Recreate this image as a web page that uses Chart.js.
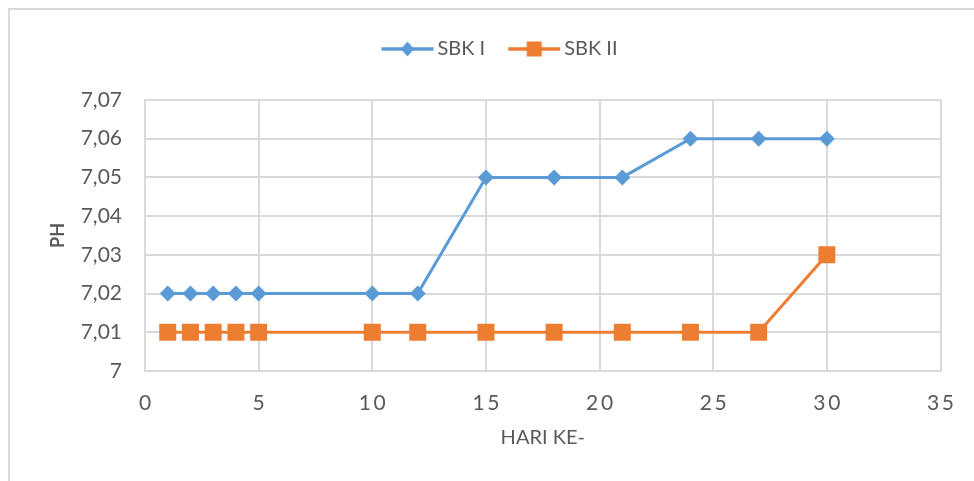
<!DOCTYPE html>
<html>
<head>
<meta charset="utf-8">
<script src="https://cdn.jsdelivr.net/npm/chart.js@4/dist/chart.umd.min.js"></script>
<style>
  html, body { margin: 0; padding: 0; background: #ffffff; }
  #wrap { width: 974px; height: 481px; }
</style>
</head>
<body>
<div id="wrap"><canvas id="c" width="974" height="481"></canvas></div>
<script>
// Observation days and pH readings
const days = [1, 2, 3, 4, 5, 10, 12, 15, 18, 21, 24, 27, 30];
const sbk1 = [7.02, 7.02, 7.02, 7.02, 7.02, 7.02, 7.02, 7.05, 7.05, 7.05, 7.06, 7.06, 7.06];
const sbk2 = [7.01, 7.01, 7.01, 7.01, 7.01, 7.01, 7.01, 7.01, 7.01, 7.01, 7.01, 7.01, 7.03];
const seriesNames = ['SBK I', 'SBK II'];
const xTitle = 'HARI KE-';
const yTitle = 'PH';

const BLUE = '#5B9BD5';
const ORANGE = '#ED7D31';
const GRID = '#d9d9d9';
const TEXT = '#595959';
const FONT = "Lato, 'Open Sans', 'Liberation Sans', sans-serif";

// legend swatch: short line with the series marker in the middle
function legendIcon(color, shape) {
  const c = document.createElement('canvas');
  c.width = 54; c.height = 22;
  const g = c.getContext('2d');
  g.strokeStyle = color; g.fillStyle = color;
  g.lineWidth = 3.5;
  g.beginPath(); g.moveTo(1, 11); g.lineTo(53, 11); g.stroke();
  g.beginPath();
  if (shape === 'diamond') {
    g.moveTo(27, 3.5); g.lineTo(33.5, 11); g.lineTo(27, 18.5); g.lineTo(20.5, 11); g.closePath();
  } else {
    g.rect(19.5, 3.5, 15, 15);
  }
  g.fill();
  return c;
}
const icons = [legendIcon(BLUE, 'diamond'), legendIcon(ORANGE, 'square')];

function toPoints(xs, ys) { return xs.map((x, i) => ({ x: x, y: ys[i] })); }

function fmtPH(v) {
  return (Math.round(v * 100) / 100).toString().replace('.', ',');
}

// outer frame of the chart object
const framePlugin = {
  id: 'frame',
  beforeDraw(chart) {
    const ctx = chart.ctx;
    ctx.save();
    ctx.fillStyle = '#ffffff';
    ctx.fillRect(0, 0, chart.width, chart.height);
    ctx.strokeStyle = GRID;
    ctx.lineWidth = 2;
    ctx.strokeRect(9, 9, chart.width + 20, chart.height + 20);
    ctx.restore();
  }
};

// extra room under the legend, and legend centred over the whole frame
const legendGap = {
  id: 'legendGap',
  beforeInit(chart) {
    const fit = chart.legend.fit;
    chart.legend.fit = function () {
      fit.bind(chart.legend)();
      this.height += 31;
    };
  },
  afterLayout(chart) {
    chart.legend.left += 30;
    chart.legend.right += 30;
  }
};

new Chart(document.getElementById('c'), {
  type: 'line',
  data: {
    datasets: [
      {
        label: seriesNames[0],
        data: toPoints(days, sbk1),
        borderColor: BLUE,
        backgroundColor: BLUE,
        borderWidth: 3,
        pointStyle: 'rectRot',
        pointRadius: 8,
        pointHoverRadius: 8,
        pointBorderWidth: 0,
        tension: 0
      },
      {
        label: seriesNames[1],
        data: toPoints(days, sbk2),
        borderColor: ORANGE,
        backgroundColor: ORANGE,
        borderWidth: 3,
        pointStyle: 'rect',
        pointRadius: 12,
        pointHoverRadius: 12,
        pointBorderWidth: 0,
        tension: 0
      }
    ]
  },
  options: {
    responsive: false,
    animation: false,
    devicePixelRatio: 1,
    layout: { padding: { top: 10, right: 29, left: 0, bottom: 0 } },
    plugins: {
      legend: {
        position: 'top',
        labels: {
          usePointStyle: true,
          pointStyleWidth: 40,
          padding: 29,
          color: TEXT,
          font: { family: FONT, size: 20 },
          generateLabels(chart) {
            return chart.data.datasets.map((ds, i) => ({
              text: ds.label,
              pointStyle: icons[i],
              fillStyle: ds.borderColor,
              strokeStyle: ds.borderColor,
              lineWidth: 0,
              fontColor: TEXT,
              hidden: false,
              datasetIndex: i
            }));
          }
        }
      },
      tooltip: { enabled: false }
    },
    scales: {
      x: {
        type: 'linear',
        min: 0,
        max: 35,
        ticks: {
          stepSize: 5,
          padding: 20,
          color: TEXT,
          font: { family: FONT, size: 21 },
          callback: (v) => String(v).split('').join('\u2009')
        },
        grid: { color: GRID, lineWidth: 2, drawTicks: false },
        border: { color: GRID, width: 2 },
        title: {
          display: true,
          text: xTitle,
          color: TEXT,
          font: { family: FONT, size: 20 },
          padding: { top: 0, bottom: 31 }
        },
        afterFit(scale) { scale.height = 110; }
      },
      y: {
        min: 7,
        max: 7.07,
        ticks: {
          stepSize: 0.01,
          padding: 23,
          color: TEXT,
          font: { family: FONT, size: 21 },
          callback: (v) => fmtPH(v)
        },
        grid: { color: GRID, lineWidth: 2, drawTicks: false },
        border: { color: GRID, width: 2 },
        title: {
          display: true,
          text: yTitle,
          color: TEXT,
          font: { family: FONT, size: 18, weight: 'bold' },
          padding: { top: 47, bottom: 0 }
        },
        afterFit(scale) { scale.width = 145; }
      }
    }
  },
  plugins: [framePlugin, legendGap]
});
</script>
</body>
</html>
